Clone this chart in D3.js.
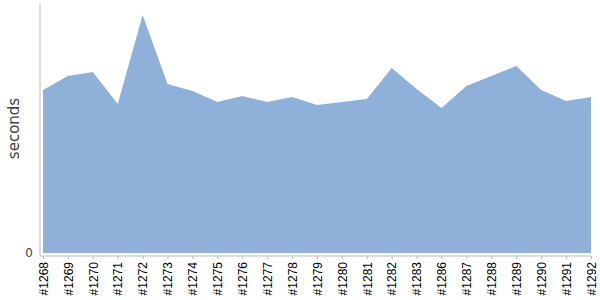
<!DOCTYPE html>
<html>
<head>
<meta charset="utf-8">
<script src="https://cdn.jsdelivr.net/npm/d3@7"></script>
<style>
  body { margin: 0; background: #fff; }
  svg { display: block; }
</style>
</head>
<body>
<div id="chart"></div>
<script>
// Build numbers and durations (seconds)
const builds = ["#1268", "#1269", "#1270", "#1271", "#1272", "#1273", "#1274", "#1275",
    "#1276", "#1277", "#1278", "#1279", "#1280", "#1281", "#1282", "#1283",
    "#1286", "#1287", "#1288", "#1289", "#1290", "#1291", "#1292"];
const durations = [16.3, 17.7, 18.1, 14.9, 23.8, 16.9, 16.2, 15.1,
    15.7, 15.1, 15.6, 14.8, 15.1, 15.4, 18.5, 16.4,
    14.5, 16.7, 17.7, 18.7, 16.3, 15.2, 15.6];
const yTicks = [0];

const data = builds.map((b, i) => ({build: b, value: durations[i]}));

const width = 600, height = 300;
const margin = {top: 4, right: 9, bottom: 47, left: 43};

const svg = d3.select("#chart")
    .append("svg")
    .attr("width", width)
    .attr("height", height);

const x = d3.scalePoint()
    .domain(builds)
    .range([margin.left, width - margin.right]);

const y = d3.scaleLinear()
    .domain([0, 24.9])
    .range([height - margin.bottom, margin.top]);

// Area
const area = d3.area()
    .x(d => x(d.build))
    .y0(y(0))
    .y1(d => y(d.value));

svg.append("path")
    .datum(data)
    .attr("fill", "#8eb0d9")
    .attr("d", area);

// Y axis
const yAxis = svg.append("g")
    .attr("transform", "translate(40,0)")
    .call(d3.axisLeft(y).tickValues(yTicks).tickSize(0).tickPadding(7));
yAxis.select(".domain").attr("stroke", "#bbb").attr("d", `M0,${margin.top}V${height - margin.bottom + 3}`);
yAxis.selectAll("text")
    .attr("fill", "#444")
    .style("font-family", "'DejaVu Sans', sans-serif")
    .style("font-size", "12px");

// X axis
const xAxis = svg.append("g")
    .attr("transform", `translate(0,${height - margin.bottom + 3})`)
    .call(d3.axisBottom(x).tickSize(3).tickPadding(0));
xAxis.select(".domain").attr("stroke", "#bbb").attr("d", `M40,0H${width - margin.right}`);
xAxis.selectAll(".tick line").attr("stroke", "#bbb");
xAxis.selectAll("text")
    .attr("fill", "#000")
    .style("font-family", "'Liberation Sans', Arial, sans-serif")
    .style("font-size", "12px")
    .attr("transform", "rotate(-90)")
    .attr("text-anchor", "end")
    .attr("x", -6)
    .attr("y", 0)
    .attr("dy", "0.35em");

// Y axis label
svg.append("text")
    .attr("transform", `translate(14,${(margin.top + height - margin.bottom) / 2}) rotate(-90)`)
    .attr("text-anchor", "middle")
    .attr("dy", "0.35em")
    .attr("fill", "#444")
    .style("font-family", "'DejaVu Sans', sans-serif")
    .style("font-size", "15px")
    .text("seconds");
</script>
</body>
</html>
